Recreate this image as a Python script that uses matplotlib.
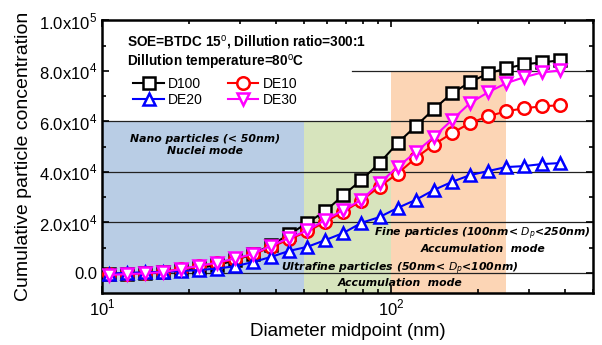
import matplotlib
matplotlib.use("Agg")
import matplotlib.pyplot as plt
from matplotlib.ticker import FixedLocator, LogLocator, NullFormatter

plt.rcParams['font.family'] = ['Liberation Sans', 'DejaVu Sans']
plt.rcParams['mathtext.fontset'] = 'custom'
plt.rcParams['mathtext.rm'] = 'Liberation Sans'

# data
diam = [10.6, 12.2, 14.1, 16.3, 18.8, 21.7, 25.0, 28.9, 33.4, 38.5, 44.5, 51.4, 59.4,
        68.5, 79.1, 91.4, 105.5, 121.9, 140.7, 162.5, 187.7, 216.7, 250.3, 289.0, 333.8, 385.4]
d100 = [-500, -300, 0, 300, 1000, 2000, 3000, 5000, 7500, 11000, 15200, 19800, 24500,
        30800, 36800, 43500, 51400, 58100, 64800, 71100, 75500, 79000, 81000, 82600, 83400, 84200]
de10 = [-500, -300, 0, 400, 1500, 2600, 3800, 5400, 7300, 10200, 13300, 16400, 20200,
        24200, 28600, 34200, 39300, 45500, 50800, 55300, 59300, 62000, 64000, 65200, 66000, 66400]
de20 = [-300, 0, 200, 400, 700, 1100, 1700, 2600, 4300, 6300, 8700, 10300, 13000,
        15800, 19800, 22100, 25700, 28900, 32800, 36000, 38700, 40300, 41900, 42300, 43100, 43500]
de30 = [-800, -500, -200, 300, 1500, 2800, 4000, 5700, 7500, 10700, 13800, 16800, 21000,
        24900, 28900, 35600, 41900, 47800, 53800, 60500, 67200, 71500, 75100, 77500, 79400, 80200]

fig = plt.figure(figsize=(6.02, 3.45), dpi=100)
ax = fig.add_axes([0.1694, 0.1507, 0.8152, 0.7899])

# size-range bands
ax.axvspan(10, 50, ymax=(6e4 + 8000) / 108000, color='#b9cde5', lw=0, zorder=0)
ax.axvspan(50, 100, ymax=(6e4 + 8000) / 108000, color='#d7e4bd', lw=0, zorder=0)
ax.axvspan(100, 250, ymax=(8e4 + 8000) / 108000, color='#fcd5b5', lw=0, zorder=0)

for yv in [0, 2e4, 4e4, 6e4]:
    ax.axhline(yv, color='#222222', lw=0.9, zorder=1)
ax.axhline(8e4, xmin=0.51, color='#222222', lw=0.9, zorder=1)

kw = dict(lw=1.5, markersize=9, mew=1.8, markerfacecolor='white', zorder=3)
l1, = ax.plot(diam, d100, '-s', color='black', label='D100', **kw)
l2, = ax.plot(diam, de10, '-o', color='red', label='DE10', **kw)
l3, = ax.plot(diam, de20, '-^', color='blue', label='DE20', **kw)
l4, = ax.plot(diam, de30, '-v', color='magenta', label='DE30', **kw)

ax.set_xscale('log')
ax.set_xlim(10, 500)
ax.set_ylim(-8000, 1e5)

ax.xaxis.set_minor_locator(LogLocator(base=10, subs=range(2, 10), numticks=20))
ax.xaxis.set_minor_formatter(NullFormatter())
ax.set_xticks([10, 100])
ax.set_xticklabels([r'$10^{1}$', r'$10^{2}$'])

yt = [0, 2e4, 4e4, 6e4, 8e4, 1e5]
ylab = ['0.0', r'$2.0\mathrm{x}10^{4}$', r'$4.0\mathrm{x}10^{4}$', r'$6.0\mathrm{x}10^{4}$',
        r'$8.0\mathrm{x}10^{4}$', r'$1.0\mathrm{x}10^{5}$']
ax.set_yticks(yt)
ax.set_yticklabels(ylab)
ax.yaxis.set_minor_locator(FixedLocator([1e4, 3e4, 5e4, 7e4, 9e4]))

ax.tick_params(which='both', direction='in', top=True, right=True, labelsize=12, width=1.2)
ax.tick_params(which='major', length=5)
ax.tick_params(which='minor', length=3)
for s in ax.spines.values():
    s.set_linewidth(1.8)

ax.set_xlabel('Diameter midpoint (nm)', fontsize=13.5, labelpad=3)
ax.set_ylabel('Cumulative particle concentration', fontsize=14, labelpad=5)

ax.text(0.05, 0.917, r'SOE=BTDC 15$^{\mathrm{o}}$, Dillution ratio=300:1', transform=ax.transAxes,
        fontsize=9.8, fontweight='bold', va='center')
ax.text(0.05, 0.845, r'Dillution temperature=80$^{\mathrm{o}}$C', transform=ax.transAxes,
        fontsize=9.8, fontweight='bold', va='center')

# two rows: D100 DE10 / DE20 DE30
leg = ax.legend([l1, l3, l2, l4], ['D100', 'DE20', 'DE10', 'DE30'], ncol=2, loc='upper left',
                bbox_to_anchor=(0.044, 0.83), fontsize=10,
                frameon=False, handlelength=2.2, handletextpad=0.3, columnspacing=1.8,
                labelspacing=0.2, borderpad=0.2, markerscale=1.0)

tkw = dict(fontsize=7.8, fontweight='bold', style='italic', ha='center', va='center', zorder=4,
           family='DejaVu Sans', linespacing=1.2)
ax.text(22.8, 5.06e4, 'Nano particles (< 50nm)\nNuclei mode', **tkw)
ax.text(208, 1.3e4, 'Fine particles (100nm< $D_p$<250nm)\nAccumulation  mode', **tkw)
ax.text(107.4, -600, 'Ultrafine particles (50nm< $D_p$<100nm)\nAccumulation  mode', **tkw)

fig.savefig('out.png', dpi=100)
